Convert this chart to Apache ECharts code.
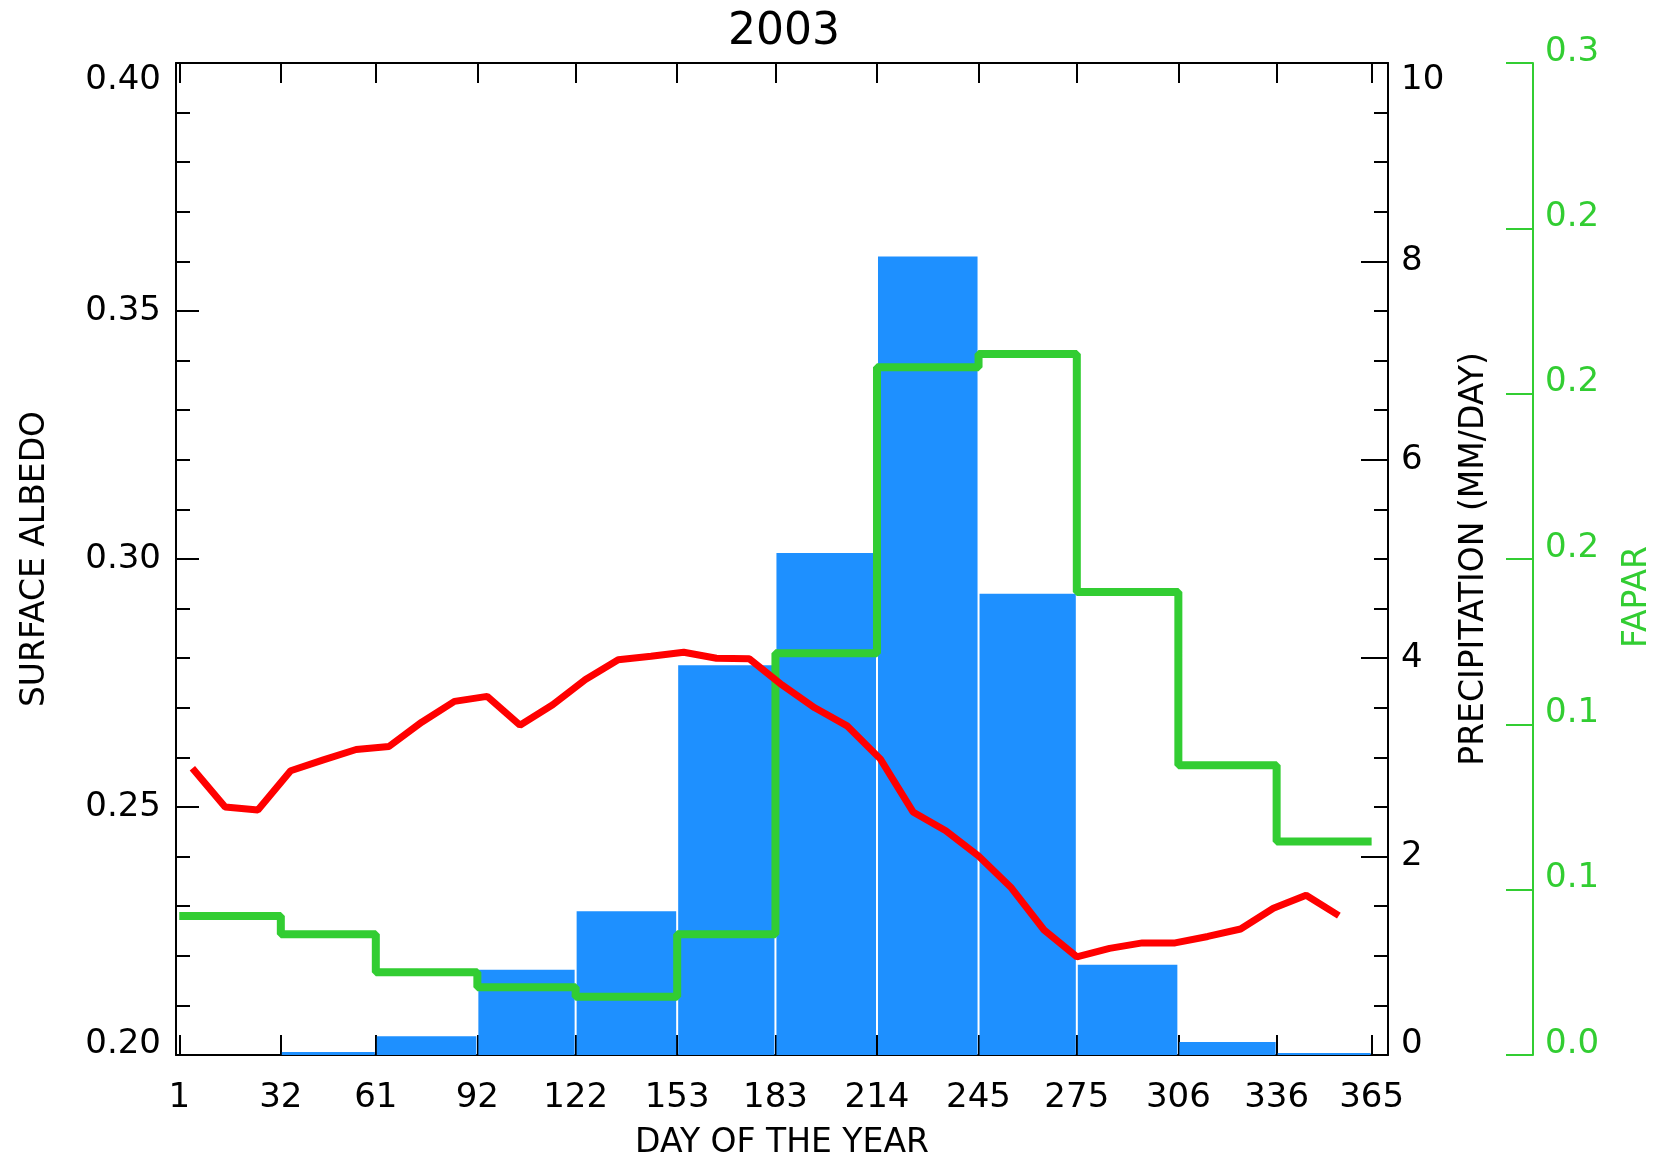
<!DOCTYPE html>
<html>
<head>
<meta charset="utf-8">
<title>2003</title>
<script src="https://cdn.jsdelivr.net/npm/echarts@6/dist/echarts.min.js"></script>
<style>html,body{margin:0;padding:0;background:#fff;}</style>
</head>
<body>
<div id="main" style="width:1657px;height:1158px;"></div>
<script type="text/javascript">
// month start days used as x ticks
var dayTicks = [1, 32, 61, 92, 122, 153, 183, 214, 245, 275, 306, 336, 365];

// monthly precipitation (mm/day) and FAPAR, one value per month
var monthStart = [1, 32, 61, 92, 122, 153, 183, 214, 245, 275, 306, 336];
var monthEnd = [32, 61, 92, 122, 153, 183, 214, 245, 275, 306, 336, 365];
var precip = [0, 0.03, 0.19, 0.86, 1.45, 3.93, 5.06, 8.05, 4.65, 0.91, 0.13, 0.02];
var fapar = [0.042, 0.0365, 0.025, 0.0205, 0.0176, 0.0365, 0.1215, 0.208, 0.212, 0.140, 0.0876, 0.0646];

// 10-day surface albedo
var albedoDays = [5, 15, 25, 35, 45, 55, 65, 75, 85, 95, 105, 115, 125, 135, 145, 155, 165, 175,
                  185, 195, 205, 215, 225, 235, 245, 255, 265, 275, 285, 295, 305, 315, 325, 335, 345, 355];
var albedo = [0.2578, 0.2500, 0.2494, 0.2573, 0.2595, 0.2616, 0.2622, 0.2671, 0.2713, 0.2723, 0.2665, 0.2706,
              0.2757, 0.2797, 0.2804, 0.2812, 0.2800, 0.2799, 0.2746, 0.2700, 0.2663, 0.2597, 0.2490, 0.2452,
              0.2401, 0.2337, 0.2252, 0.2198, 0.2215, 0.2226, 0.2226, 0.2239, 0.2254, 0.2296, 0.2322, 0.2281];

// FAPAR axis labels as printed (rounded to one decimal)
var faparLabels = ['0.0', '0.1', '0.1', '0.2', '0.2', '0.2', '0.3'];

var FONT = 'DejaVu Sans';
var GREEN = '#32CD32';
var black = {color: '#000', width: 2};
// top label of the black axes sits a bit lower under the frame
var richTop = {hi: {fontFamily: FONT, fontSize: 34, lineHeight: 22, color: '#000', padding: [12, 0, 0, 0]}};

var myChart = echarts.init(document.getElementById('main'));

var barData = [];
var stepData = [];
for (var i = 0; i < monthStart.length; i++) {
    barData.push([monthStart[i], monthEnd[i], precip[i]]);
    stepData.push([monthStart[i], fapar[i]]);
    stepData.push([monthEnd[i], fapar[i]]);
}
var albedoData = [];
for (var j = 0; j < albedoDays.length; j++) {
    albedoData.push([albedoDays[j], albedo[j]]);
}

var option = {
    animation: false,
    backgroundColor: '#fff',
    title: {
        text: '2003',
        left: 779,
        top: 6,
        textAlign: 'center',
        textStyle: {fontFamily: FONT, fontSize: 44, fontWeight: 'normal', color: '#000'}
    },
    grid: {left: 176, right: 269, top: 63, bottom: 103, outerBoundsMode: 'none'},
    xAxis: [
        {
            type: 'value', min: 0, max: 370, position: 'bottom',
            axisLine: {show: true, onZero: false, lineStyle: black},
            axisTick: {show: true, inside: true, length: 20, customValues: dayTicks, lineStyle: black},
            axisLabel: {customValues: dayTicks, fontFamily: FONT, fontSize: 34, color: '#000', margin: 26},
            splitLine: {show: false},
            name: 'DAY OF THE YEAR', nameLocation: 'middle', nameGap: 72,
            nameTextStyle: {fontFamily: FONT, fontSize: 33, color: '#000'}
        },
        {
            type: 'value', min: 0, max: 370, position: 'top',
            axisLine: {show: true, onZero: false, lineStyle: black},
            axisTick: {show: true, inside: true, length: 20, customValues: dayTicks, lineStyle: black},
            axisLabel: {show: false},
            splitLine: {show: false}
        }
    ],
    yAxis: [
        {
            type: 'value', min: 0.2, max: 0.4, interval: 0.05, position: 'left',
            axisLine: {show: true, onZero: false, lineStyle: black},
            axisTick: {show: true, inside: true, length: 23, lineStyle: black},
            minorTick: {show: true, splitNumber: 5, length: 14, lineStyle: black},
            axisLabel: {
                formatter: function (v) {
                    var s = v.toFixed(2);
                    return v > 0.399 ? '{hi|' + s + '}' : s;
                },
                rich: richTop,
                fontFamily: FONT, fontSize: 34, lineHeight: 22, color: '#000', margin: 15,
                verticalAlignMinLabel: 'bottom', verticalAlignMaxLabel: 'top'
            },
            splitLine: {show: false},
            name: 'SURFACE ALBEDO', nameLocation: 'middle', nameGap: 124, nameRotate: 90,
            nameTextStyle: {fontFamily: FONT, fontSize: 33, color: '#000'}
        },
        {
            type: 'value', min: 0, max: 10, interval: 2, position: 'right',
            axisLine: {show: true, onZero: false, lineStyle: black},
            axisTick: {show: true, inside: true, length: 27, lineStyle: black},
            minorTick: {show: true, splitNumber: 4, length: 14, lineStyle: black},
            axisLabel: {
                formatter: function (v) {
                    return v > 9.99 ? '{hi|' + v + '}' : String(v);
                },
                rich: richTop,
                fontFamily: FONT, fontSize: 34, lineHeight: 22, color: '#000', margin: 13,
                verticalAlignMinLabel: 'bottom', verticalAlignMaxLabel: 'top'
            },
            splitLine: {show: false},
            name: 'PRECIPITATION (MM/DAY)', nameLocation: 'middle', nameGap: 70, nameRotate: 90,
            nameTextStyle: {fontFamily: FONT, fontSize: 33, color: '#000'}
        },
        {
            type: 'value', min: 0, max: 0.3, interval: 0.05, position: 'right', offset: 145,
            axisLine: {show: true, onZero: false, lineStyle: {color: GREEN, width: 2}},
            axisTick: {show: true, inside: true, length: 27, lineStyle: {color: GREEN, width: 2}},
            axisLabel: {
                formatter: function (v) { return faparLabels[Math.round(v / 0.05)]; },
                fontFamily: FONT, fontSize: 34, lineHeight: 22, color: GREEN, margin: 12,
                verticalAlign: 'bottom'
            },
            splitLine: {show: false},
            name: 'FAPAR', nameLocation: 'middle', nameGap: 88, nameRotate: 90,
            nameTextStyle: {fontFamily: FONT, fontSize: 33, color: GREEN, padding: [0, 76, 0, 0]}
        }
    ],
    series: [
        {
            name: 'precip',
            type: 'custom',
            xAxisIndex: 0,
            yAxisIndex: 1,
            encode: {x: [0, 1], y: 2},
            data: barData,
            renderItem: function (params, api) {
                var p0 = api.coord([api.value(0), api.value(2)]);
                var p1 = api.coord([api.value(1), 0]);
                return {
                    type: 'rect',
                    shape: {x: p0[0] + 1, y: p0[1], width: p1[0] - p0[0] - 2, height: p1[1] - p0[1]},
                    style: {fill: '#1E90FF'}
                };
            },
            z: 1
        },
        {
            name: 'fapar',
            type: 'line',
            xAxisIndex: 0,
            yAxisIndex: 2,
            data: stepData,
            symbol: 'none',
            lineStyle: {color: GREEN, width: 8},
            z: 3
        },
        {
            name: 'albedo',
            type: 'line',
            xAxisIndex: 0,
            yAxisIndex: 0,
            data: albedoData,
            symbol: 'none',
            lineStyle: {color: '#FF0000', width: 7},
            z: 4
        }
    ]
};

myChart.setOption(option);
</script>
</body>
</html>
